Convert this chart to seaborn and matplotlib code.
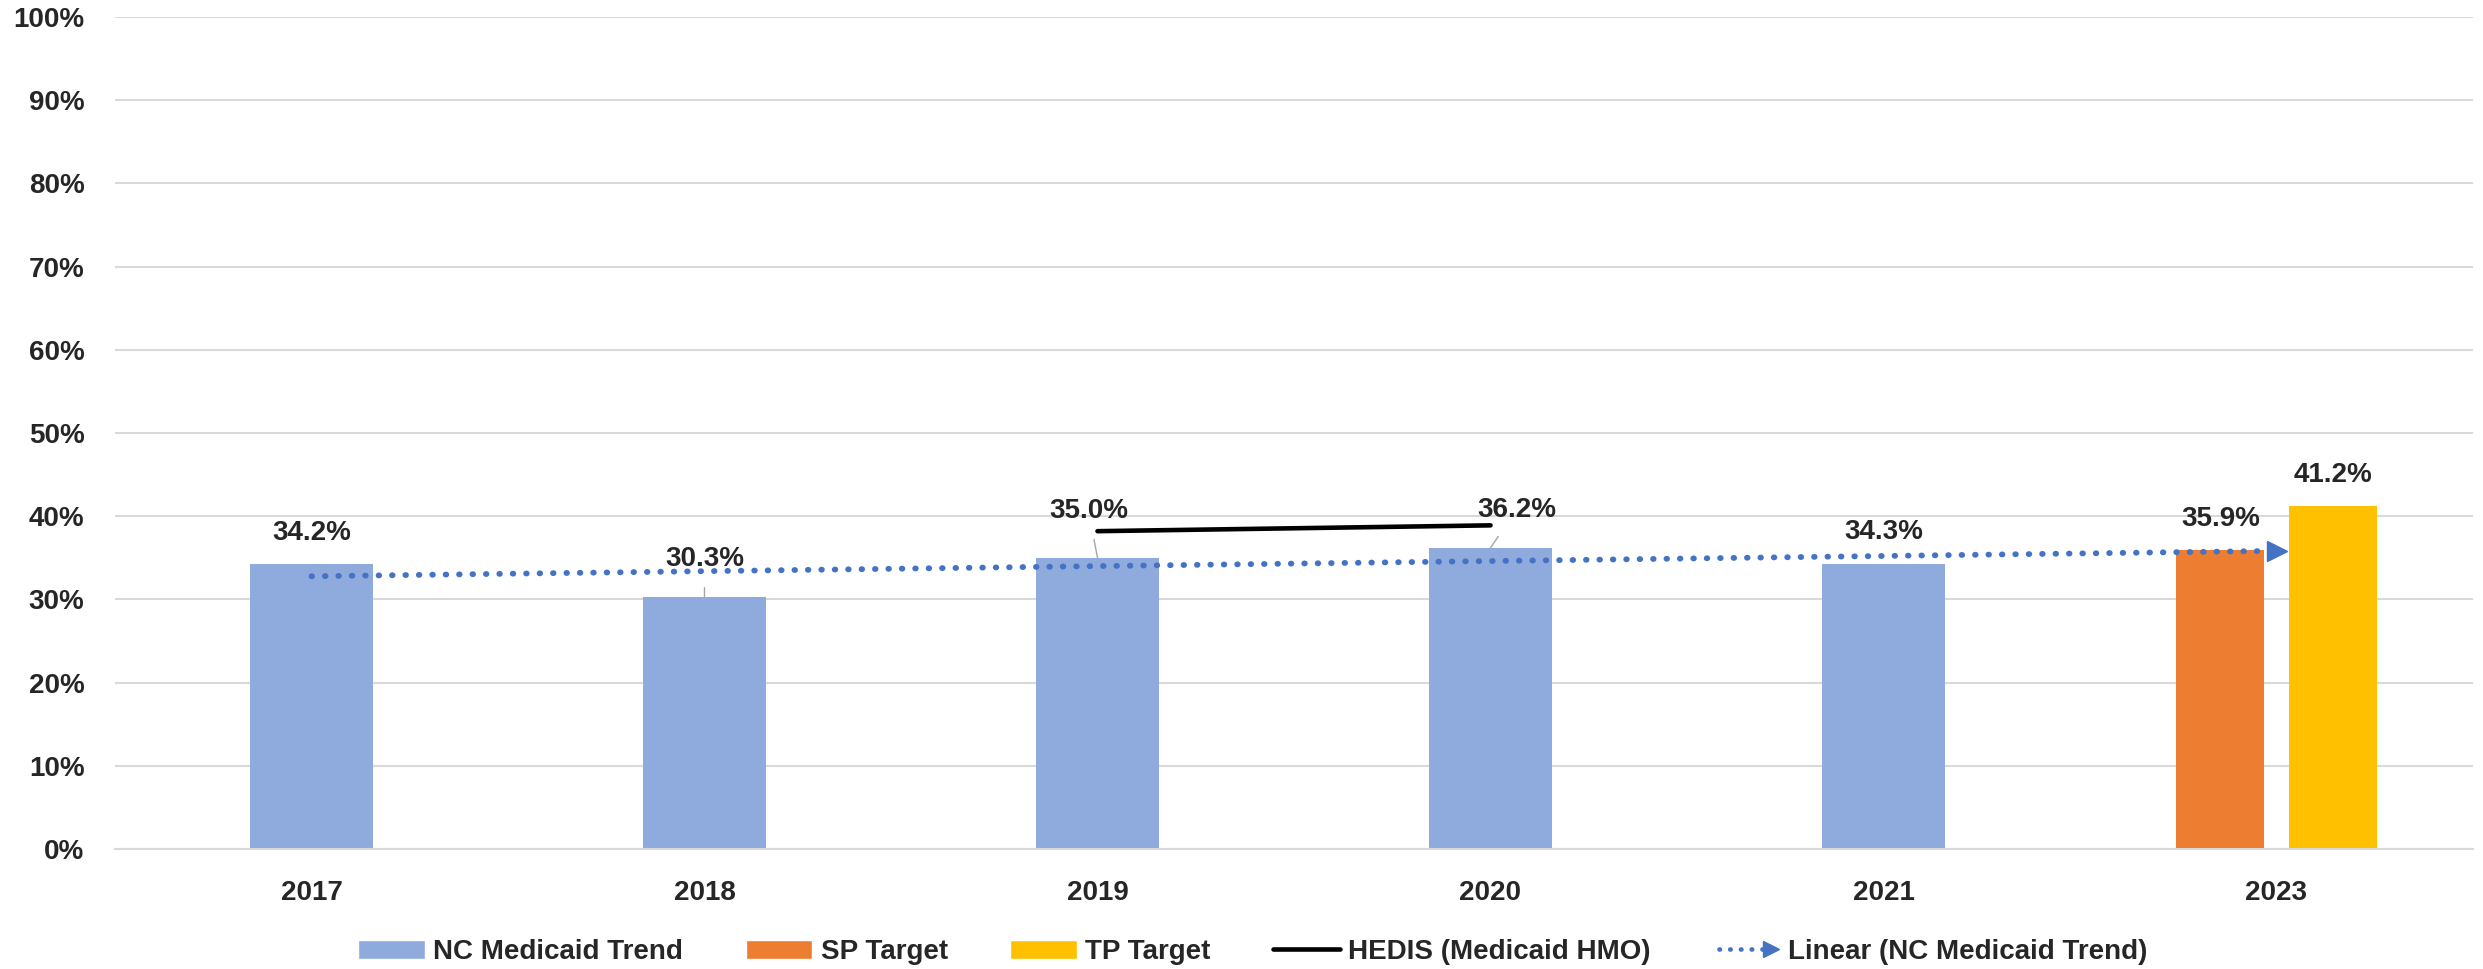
import numpy as np
import pandas as pd
import seaborn as sns
import matplotlib.pyplot as plt
from matplotlib.patches import Patch
from matplotlib.lines import Line2D
from matplotlib.legend_handler import HandlerBase

# data
years = ['2017', '2018', '2019', '2020', '2021', '2023']
nc_years = ['2017', '2018', '2019', '2020', '2021']
nc_values = [34.2, 30.3, 35.0, 36.2, 34.3]
target_series = ['SP Target', 'TP Target']
target_values = [35.9, 41.2]
hedis_years = ['2019', '2020']
hedis_values = [38.2, 38.9]

c_nc = '#8FAADC'
c_sp = '#ED7D31'
c_tp = '#FFC000'
c_trend = '#4472C4'
c_grid = '#D9D9D9'
TREND_LW = 4.2
TREND_LS = (0, (0.1, 2.2))

sns.set_style('white')
plt.rcParams['font.family'] = ['Liberation Sans', 'DejaVu Sans']
plt.rcParams['font.weight'] = 'bold'
FS = 20


class TrendHandler(HandlerBase):
    # dotted line with an arrow head at the right end, like Excel's legend entry
    def create_artists(self, legend, orig, xdescent, ydescent, width, height, fontsize, trans):
        y = height / 2 - ydescent
        x0 = -xdescent
        line = Line2D([x0 + 4, x0 + width * 0.78], [y, y], color=c_trend, lw=TREND_LW * 0.8,
                      ls=TREND_LS, dash_capstyle='round', transform=trans)
        head = Line2D([x0 + width * 0.87], [y], marker='>', ms=11, color=c_trend,
                      ls='none', transform=trans)
        return [line, head]


fig = plt.figure(figsize=(24.83, 9.69), dpi=100)
ax = fig.add_axes([115 / 2483, 1 - 849 / 969, (2473 - 115) / 2483, (849 - 17) / 969])

df_nc = pd.DataFrame({'year': nc_years, 'rate': nc_values})
sns.barplot(data=df_nc, x='year', y='rate', order=years, color=c_nc, width=0.315,
            saturation=1, errorbar=None, linewidth=0, ax=ax)

df_t = pd.DataFrame({'year': ['2023', '2023'], 'series': target_series, 'rate': target_values})
sns.barplot(data=df_t, x='year', y='rate', hue='series', order=years,
            palette=[c_sp, c_tp], width=0.572, gap=0.217, saturation=1,
            errorbar=None, linewidth=0, legend=False, ax=ax)

# HEDIS benchmark line
hx = [years.index(y) for y in hedis_years]
ax.plot(hx, hedis_values, color='black', lw=3.3, solid_capstyle='round', zorder=4)

# linear trendline of NC Medicaid, forecast one period forward
xf = np.array([years.index(y) for y in nc_years])
coef = np.polyfit(xf, nc_values, 1)
xt = np.array([xf[0], len(years) - 1])
ax.plot(xt, np.polyval(coef, xt), color=c_trend, lw=TREND_LW, ls=TREND_LS,
        dash_capstyle='round', marker='>', markevery=[-1], ms=14, zorder=5)

# data labels (offsets in pixels, some moved with leader lines)
label_offsets = {'2017': (0, 31, False), '2018': (0, 38, True), '2019': (-9, 47, True),
                 '2020': (26, 38, True), '2021': (0, 32, False)}
for y, v in zip(nc_years, nc_values):
    dx, dy, lead = label_offsets[y]
    arrow = dict(arrowstyle='-', color='#A6A6A6', lw=1, shrinkA=9, shrinkB=0) if lead else None
    ax.annotate(f'{v:.1f}%', xy=(years.index(y), v), xytext=(dx, dy),
                textcoords='offset pixels', ha='center', va='center',
                fontsize=FS, fontweight='bold', arrowprops=arrow)

for bar, v in zip(ax.patches[-2:], target_values):
    ax.annotate(f'{v:.1f}%', xy=(bar.get_x() + bar.get_width() / 2, v), xytext=(0, 31),
                textcoords='offset pixels', ha='center', va='center',
                fontsize=FS, fontweight='bold')

# axes styling
ax.set_xlim(-0.5, len(years) - 0.5)
ax.set_ylim(0, 100)
ax.set_yticks(range(0, 101, 10))
ax.set_yticklabels([f'{t}%' for t in range(0, 101, 10)], fontsize=FS, fontweight='bold')
ax.set_xticks(range(len(years)))
ax.set_xticklabels(years, fontsize=FS, fontweight='bold')
ax.set_xticks(np.arange(-0.5, len(years)), minor=True)
ax.tick_params(axis='x', which='major', length=0, pad=22)
ax.tick_params(axis='x', which='minor', length=7, width=1.5, color=c_grid)
ax.tick_params(axis='y', length=0, pad=22)
ax.set_xlabel('')
ax.set_ylabel('')
ax.yaxis.grid(True, color=c_grid, lw=1.5)
ax.set_axisbelow(True)
for s in ['top', 'right', 'left']:
    ax.spines[s].set_visible(False)
ax.spines['bottom'].set_color(c_grid)
ax.spines['bottom'].set_linewidth(1.5)

trend_handle = Line2D([], [], color=c_trend, label='Linear (NC Medicaid Trend)')
handles = [
    Patch(facecolor=c_nc, label='NC Medicaid Trend'),
    Patch(facecolor=c_sp, label='SP Target'),
    Patch(facecolor=c_tp, label='TP Target'),
    Line2D([], [], color='black', lw=3.3, solid_capstyle='round', label='HEDIS (Medicaid HMO)'),
    trend_handle,
]
fig.legend(handles=handles, loc='center', bbox_to_anchor=(1253 / 2483, 0.0175), ncol=5,
           frameon=False, prop={'size': FS, 'weight': 'bold'},
           handlelength=2.4, handletextpad=0.3, columnspacing=2.25,
           handler_map={trend_handle: TrendHandler()})

fig.savefig('out.png', dpi=100)
